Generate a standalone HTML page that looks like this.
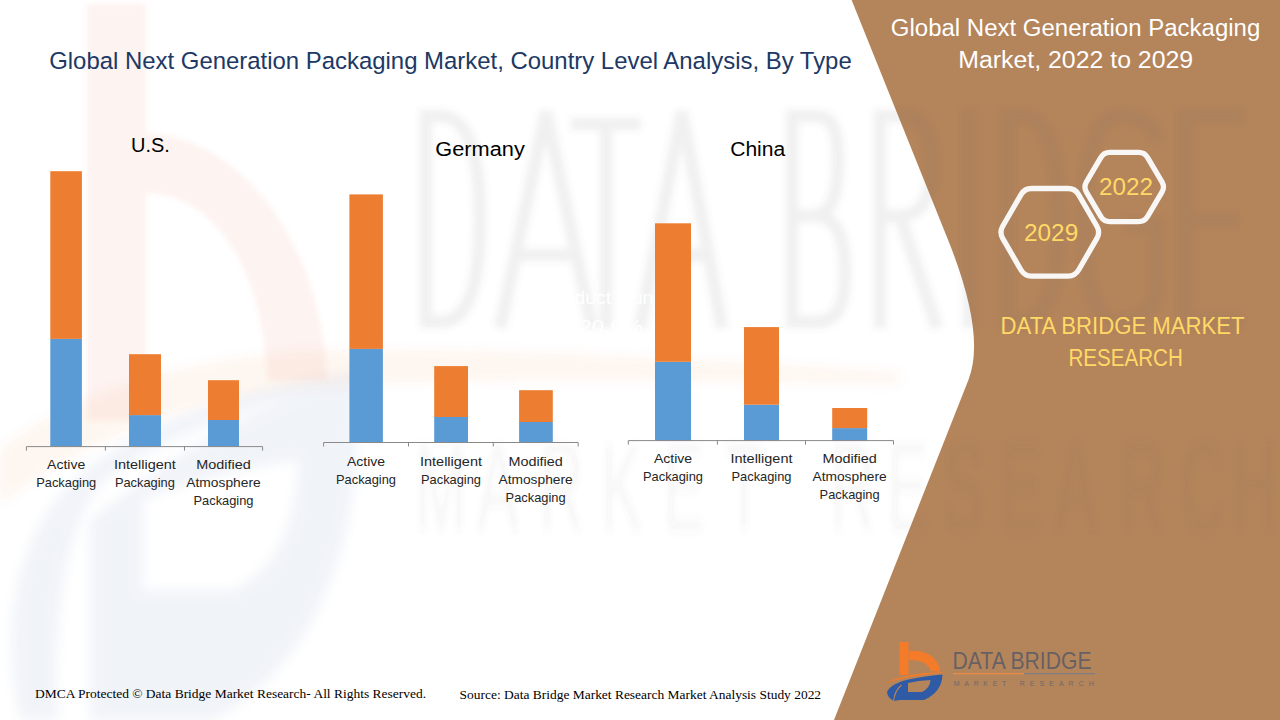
<!DOCTYPE html>
<html>
<head>
<meta charset="utf-8">
<style>
html,body{margin:0;padding:0;width:1280px;height:720px;overflow:hidden;background:#fff;}
svg{position:absolute;left:0;top:0;display:block;}
text{font-family:"Liberation Sans",sans-serif;}
.serif{font-family:"Liberation Serif",serif;}
</style>
</head>
<body>
<svg width="1280" height="720" viewBox="0 0 1280 720">
  <!-- brown panel -->
  <path d="M851.6,0 L1280,0 L1280,720 L834,720 L968.4,380 Q986.2,335 948.1,240 Z" fill="#B4845B"/>


  <!-- watermark -->
  <defs>
    <filter id="blur3" x="-10%" y="-10%" width="120%" height="120%"><feGaussianBlur stdDeviation="3"/></filter>
    <filter id="blur4" x="-10%" y="-10%" width="120%" height="120%"><feGaussianBlur stdDeviation="2.5"/></filter>
    <filter id="blur6" x="-20%" y="-20%" width="140%" height="140%"><feGaussianBlur stdDeviation="6"/></filter>
  </defs>

  <g>
    <g fill="#E8603A" fill-opacity="0.075" filter="url(#blur4)">
      <path d="M87,4 H146 V420 H87 Z"/>
      <path d="M146,134 C230,134 320,230 327,380 L268,380 C262,260 210,193 146,193 Z"/>
      
    </g>
    <g fill="#E8603A" fill-opacity="0.06" filter="url(#blur6)">
      <path d="M0,450 C60,400 180,355 330,350 C500,348 700,360 900,372 L900,384 C700,380 500,378 330,385 C200,392 80,440 0,505 Z"/>
    </g>
    <g fill="#3D64A8" opacity="0.07" fill-rule="evenodd" filter="url(#blur6)">
      <path d="M20,720 C0,620 15,530 85,470 C150,420 250,385 360,372 C260,405 150,440 100,485 C62,530 52,640 58,720 Z"/>
      <path d="M90,520 L90,720 L210,720 C280,690 345,600 355,470 C358,430 358,400 360,372 C270,395 180,450 90,520 Z M143,500 L143,590 L232,590 C272,572 295,535 298,460 C250,468 190,480 143,500 Z"/>
    </g>
  </g>
  <g filter="url(#blur3)" stroke="#6b6b6b" stroke-opacity="0.095" stroke-width="12.5" fill="none" stroke-linejoin="miter">
    <path d="M426,110 V328 M420,116 H440 C470,116 480,160 480,219 C480,280 470,322 440,322 H420"/>
    <path d="M500,328 L546,112 L592,328 M515,255 H577"/>
    <path d="M571,124 H641 M606,124 V328"/>
    <path d="M640,328 L682,112 L722,328 M655,255 H707"/>
    <path d="M792,110 V328 M786,116 H815 C835,116 838,135 838,160 C838,200 830,216 810,216 H792 M800,216 H815 C840,216 845,245 845,272 C845,310 835,322 815,322 H786"/>
    <path d="M880,110 V328 M874,116 H905 C925,116 932,140 932,165 C932,200 920,216 900,216 H880 M900,216 L937,328"/>
    <path d="M969,110 V328"/>
    <path d="M1007,110 V328 M1001,116 H1020 C1050,116 1059,160 1059,219 C1059,280 1050,322 1020,322 H1001"/>
    <path d="M1157,140 C1150,120 1135,116 1120,116 C1095,116 1084,160 1084,219 C1084,290 1095,322 1120,322 C1140,322 1157,310 1157,280 V225 H1125"/>
    <path d="M1243,116 H1185 V322 H1243 M1185,220 H1238"/>
  </g>


  <g filter="url(#blur4)" transform="scale(1,2)">
    <text x="415 477 539 601 663 725 830 887 943 1000 1055 1120 1180 1232" y="265" font-size="62" fill="#6b6b6b" fill-opacity="0.055">MARKETRESEARCH</text>
  </g>


  <text x="544" y="304" font-size="18" fill="#ffffff" textLength="130" lengthAdjust="spacingAndGlyphs">Product launch</text>
  <text x="579.5" y="333" font-size="18" fill="#ffffff" textLength="63" lengthAdjust="spacingAndGlyphs">20.0%</text>

  <!-- main title -->
  <text x="49.2" y="68.7" font-size="24.5" fill="#203864" textLength="802.5" lengthAdjust="spacingAndGlyphs">Global Next Generation Packaging Market, Country Level Analysis, By Type</text>

  <!-- right title -->
  <text x="890.8" y="35.8" font-size="23.5" fill="#ffffff" textLength="369.5" lengthAdjust="spacingAndGlyphs">Global Next Generation Packaging</text>
  <text x="958.2" y="67.8" font-size="23.5" fill="#ffffff" textLength="235" lengthAdjust="spacingAndGlyphs">Market, 2022 to 2029</text>

  <!-- chart titles -->
  <text x="131" y="151.5" font-size="20" fill="#000" textLength="38.8" lengthAdjust="spacingAndGlyphs">U.S.</text>
  <text x="435.3" y="156" font-size="20" fill="#000" textLength="89.5" lengthAdjust="spacingAndGlyphs">Germany</text>
  <text x="730.2" y="156" font-size="20" fill="#000" textLength="55" lengthAdjust="spacingAndGlyphs">China</text>

  <!-- US chart -->
  <g>
    <rect x="50.3" y="338.9" width="31.6" height="107.7" fill="#5B9BD5"/>
    <rect x="50.3" y="171.2" width="31.6" height="167.7" fill="#ED7D31"/>
    <rect x="129" y="415.1" width="32" height="31.5" fill="#5B9BD5"/>
    <rect x="129" y="354.2" width="32" height="60.9" fill="#ED7D31"/>
    <rect x="208" y="420" width="31" height="26.6" fill="#5B9BD5"/>
    <rect x="208" y="380.2" width="31" height="39.8" fill="#ED7D31"/>
    <path d="M26.4,450.6 V446.6 H262.6 V450.6 M105.4,446.6 V450.6 M184.5,446.6 V450.6" stroke="#898989" stroke-width="1" fill="none"/>
  </g>
  <!-- Germany chart -->
  <g>
    <rect x="349.4" y="348.9" width="33.5" height="93.9" fill="#5B9BD5"/>
    <rect x="349.4" y="194.4" width="33.5" height="154.5" fill="#ED7D31"/>
    <rect x="434.2" y="417" width="33.8" height="25.8" fill="#5B9BD5"/>
    <rect x="434.2" y="366.1" width="33.8" height="50.9" fill="#ED7D31"/>
    <rect x="519.1" y="422" width="33.7" height="20.8" fill="#5B9BD5"/>
    <rect x="519.1" y="390.2" width="33.7" height="31.8" fill="#ED7D31"/>
    <path d="M323.6,446.5 V442.5 H578.2 V446.5 M408.5,442.5 V446.5 M493.3,442.5 V446.5" stroke="#898989" stroke-width="1" fill="none"/>
  </g>
  <!-- China chart -->
  <g>
    <rect x="655" y="361.8" width="36" height="79" fill="#5B9BD5"/>
    <rect x="655" y="223.3" width="36" height="138.5" fill="#ED7D31"/>
    <rect x="744" y="404.7" width="35" height="36.1" fill="#5B9BD5"/>
    <rect x="744" y="327.1" width="35" height="77.6" fill="#ED7D31"/>
    <rect x="832.2" y="428.1" width="35" height="12.7" fill="#5B9BD5"/>
    <rect x="832.2" y="408" width="35" height="20.1" fill="#ED7D31"/>
    <path d="M628.3,444.6 V440.6 H893.5 V444.6 M717.4,440.6 V444.6 M805.5,440.6 V444.6" stroke="#898989" stroke-width="1" fill="none"/>
  </g>

    <!-- category labels -->
  <g font-size="13" fill="#262626" text-anchor="middle" lengthAdjust="spacingAndGlyphs">
    <text x="66.2" y="468.9" textLength="38.2" lengthAdjust="spacingAndGlyphs">Active</text>
    <text x="66.2" y="486.9" textLength="60" lengthAdjust="spacingAndGlyphs">Packaging</text>
    <text x="144.9" y="468.9" textLength="62" lengthAdjust="spacingAndGlyphs">Intelligent</text>
    <text x="144.9" y="486.9" textLength="60" lengthAdjust="spacingAndGlyphs">Packaging</text>
    <text x="223.5" y="468.9" textLength="54.4" lengthAdjust="spacingAndGlyphs">Modified</text>
    <text x="223.5" y="486.9" textLength="74.3" lengthAdjust="spacingAndGlyphs">Atmosphere</text>
    <text x="223.5" y="504.9" textLength="60" lengthAdjust="spacingAndGlyphs">Packaging</text>
    <text x="366" y="466.0" textLength="38.2" lengthAdjust="spacingAndGlyphs">Active</text>
    <text x="366" y="484.0" textLength="60" lengthAdjust="spacingAndGlyphs">Packaging</text>
    <text x="451" y="466.0" textLength="62" lengthAdjust="spacingAndGlyphs">Intelligent</text>
    <text x="451" y="484.0" textLength="60" lengthAdjust="spacingAndGlyphs">Packaging</text>
    <text x="535.6" y="466.0" textLength="54.4" lengthAdjust="spacingAndGlyphs">Modified</text>
    <text x="535.6" y="484.0" textLength="74.3" lengthAdjust="spacingAndGlyphs">Atmosphere</text>
    <text x="535.6" y="502.0" textLength="60" lengthAdjust="spacingAndGlyphs">Packaging</text>
    <text x="673" y="463.0" textLength="38.2" lengthAdjust="spacingAndGlyphs">Active</text>
    <text x="673" y="481.0" textLength="60" lengthAdjust="spacingAndGlyphs">Packaging</text>
    <text x="761.5" y="463.0" textLength="62" lengthAdjust="spacingAndGlyphs">Intelligent</text>
    <text x="761.5" y="481.0" textLength="60" lengthAdjust="spacingAndGlyphs">Packaging</text>
    <text x="849.6" y="463.0" textLength="54.4" lengthAdjust="spacingAndGlyphs">Modified</text>
    <text x="849.6" y="481.0" textLength="74.3" lengthAdjust="spacingAndGlyphs">Atmosphere</text>
    <text x="849.6" y="499.0" textLength="60" lengthAdjust="spacingAndGlyphs">Packaging</text>
  </g>

  <!-- hexagons -->
  <g fill="none" stroke="#F8F7F5" stroke-width="5.3">
    <path d="M1002.70,226.24 L1021.00,194.56 Q1024.50,188.50 1031.50,188.50 L1068.10,188.50 Q1075.10,188.50 1078.60,194.56 L1096.90,226.24 Q1100.40,232.30 1096.90,238.36 L1078.60,270.04 Q1075.10,276.10 1068.10,276.10 L1031.50,276.10 Q1024.50,276.10 1021.00,270.04 L1002.70,238.36 Q999.20,232.30 1002.70,226.24 Z"/>
    <path d="M1086.45,181.83 L1100.75,157.57 Q1103.80,152.40 1109.80,152.40 L1138.60,152.40 Q1144.60,152.40 1147.65,157.57 L1161.95,181.83 Q1165.00,187.00 1161.95,192.17 L1147.65,216.43 Q1144.60,221.60 1138.60,221.60 L1109.80,221.60 Q1103.80,221.60 1100.75,216.43 L1086.45,192.17 Q1083.40,187.00 1086.45,181.83 Z"/>
  </g>
  <text x="1024" y="240.5" font-size="23" fill="#FFD966" textLength="54.2" lengthAdjust="spacingAndGlyphs">2029</text>
  <text x="1099" y="194.6" font-size="23" fill="#FFD966" textLength="54.1" lengthAdjust="spacingAndGlyphs">2022</text>

  <text x="1000.6" y="333.8" font-size="23.5" fill="#FFD966" textLength="244" lengthAdjust="spacingAndGlyphs">DATA BRIDGE MARKET</text>
  <text x="1068.4" y="366.3" font-size="23.5" fill="#FFD966" textLength="114.5" lengthAdjust="spacingAndGlyphs">RESEARCH</text>


  <!-- bottom logo -->
  <g>
    <rect x="899.5" y="642" width="9" height="33" fill="#F47B2A"/>
    <path d="M908.5,651 C926,649 938,657 940.5,671.5 L931,671.5 C929,664 921,659.5 908.5,660 Z" fill="#F47B2A"/>
    <path d="M884,683.5 Q912,671 947,672.5 Q912,675 884,683.5 Z" fill="#F47B2A"/>
    <path fill-rule="evenodd" fill="#2E5AA6" d="M887,692 Q891,683 911,679 Q928,675.5 942.5,674.5 Q942,692 924,700 L899.5,700 L894,701 Q887.5,698 887,692 Z M908,683 L908,692 L922,692 Q930,688 930.5,680 Q918,680.5 908,683 Z"/>
    <path d="M893.5,701.5 Q894.5,691 901.5,685" stroke="#B4845B" stroke-width="1.1" fill="none"/>
  </g>
  <text x="952.5" y="669.3" font-size="24" fill="#4C5466" fill-opacity="0.75" textLength="139" lengthAdjust="spacingAndGlyphs">DATA BRIDGE</text>
  <rect x="953" y="673" width="71" height="1.3" fill="#E88A4B"/>
  <rect x="1024" y="673" width="71" height="1.3" fill="#7F7E80"/>
  <text x="953.8" y="685.6" font-size="7" fill="#6E6A6A" textLength="52.5" lengthAdjust="spacing">MARKET</text>
  <text x="1019.8" y="685.6" font-size="7" fill="#6E6A6A" textLength="74" lengthAdjust="spacing">RESEARCH</text>

  <!-- footer -->
  <text class="serif" x="35" y="697.8" font-size="13" fill="#000" textLength="391" lengthAdjust="spacingAndGlyphs">DMCA Protected © Data Bridge Market Research- All Rights Reserved.</text>
  <text class="serif" x="459.6" y="698.8" font-size="13" fill="#000" textLength="361.5" lengthAdjust="spacingAndGlyphs">Source: Data Bridge Market Research Market Analysis Study 2022</text>
</svg>
</body>
</html>
